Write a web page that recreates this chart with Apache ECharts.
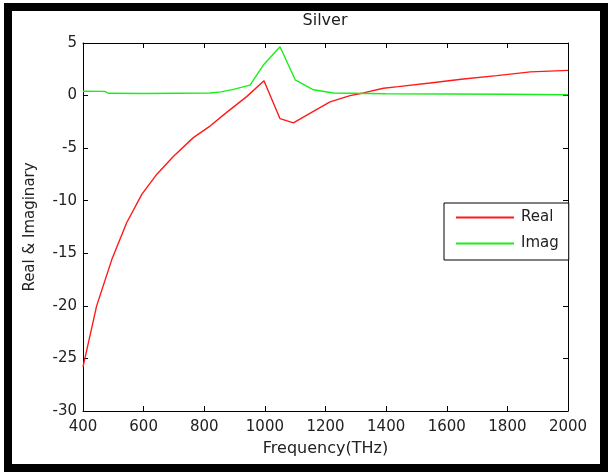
<!DOCTYPE html>
<html>
<head>
<meta charset="utf-8">
<title>Silver</title>
<script src="https://cdn.jsdelivr.net/npm/echarts@6/dist/echarts.min.js"></script>
<style>
    html, body { margin: 0; padding: 0; background: #fff; }
    #silver-chart { width: 608px; height: 475px; }
</style>
</head>
<body>
<div id="silver-chart"></div>
<script>
// values
let realFreq = [400, 445, 495, 544, 594, 643, 698, 764, 819, 874, 940, 997, 1050, 1094, 1160, 1215, 1281, 1325, 1391, 1440, 1545, 1655, 1765, 1876, 2000];
let realValues = [-25.8, -20.0, -15.6, -12.1, -9.4, -7.5, -5.8, -4.0, -2.9, -1.6, -0.1, 1.4, -2.2, -2.6, -1.5, -0.6, 0.0, 0.25, 0.7, 0.85, 1.2, 1.58, 1.9, 2.25, 2.4];
let imagFreq = [400, 472, 483, 600, 819, 855, 893, 951, 995, 1050, 1100, 1160, 1226, 1400, 1600, 1800, 2000];
let imagValues = [0.41, 0.4, 0.22, 0.2, 0.25, 0.35, 0.57, 1.0, 2.9, 4.65, 1.5, 0.55, 0.25, 0.17, 0.15, 0.12, 0.08];
let xRange = [400, 2000, 200];
let yRange = [-30, 5, 5];
let seriesNames = ['Real', 'Imag'];

function Charts() {

}

Charts.prototype.pairs = function (xs, ys) {
    let out = [];
    for (let i = 0; i < xs.length; i++) {
        out.push([xs[i], ys[i]]);
    }
    return out;
};

Charts.prototype.axis = function (range, position, showLabel, extra) {
    let ax = {
        type: 'value',
        position: position,
        min: range[0],
        max: range[1],
        interval: range[2],
        axisLine: {
            show: true,
            onZero: false,
            lineStyle: {color: '#000', width: 1}
        },
        axisTick: {
            show: true,
            inside: true,
            length: 5,
            lineStyle: {color: '#000', width: 1}
        },
        splitLine: {show: false},
        axisLabel: {
            show: showLabel,
            color: '#222',
            fontFamily: 'DejaVu Sans',
            fontSize: 15,
            // no thousands separator
            formatter: function (v) {
                return String(v);
            }
        }
    };
    return Object.assign(ax, extra || {});
};

Charts.prototype.draw = function () {
    let self = this;
    let dom = document.getElementById('silver-chart');
    // 1. init
    let chart = echarts.init(dom, null, {renderer: 'canvas'});
    // 2. option
    let xBottom = self.axis(xRange, 'bottom', true, {
        name: 'Frequency(THz)',
        nameLocation: 'middle',
        nameGap: 30,
        nameTextStyle: {color: '#222', fontFamily: 'DejaVu Sans', fontSize: 16}
    });
    xBottom.axisLabel.margin = 9;
    let yLeft = self.axis(yRange, 'left', true, {
        name: 'Real & Imaginary',
        nameLocation: 'middle',
        nameGap: 45,
        nameRotate: 90,
        nameTextStyle: {color: '#222', fontFamily: 'DejaVu Sans', fontSize: 15}
    });
    yLeft.axisLabel.margin = 6;

    let option = {
        animation: false,
        backgroundColor: '#fff',
        title: {
            text: 'Silver',
            left: 325,
            top: 13,
            padding: 0,
            textAlign: 'center',
            textStyle: {color: '#222', fontFamily: 'DejaVu Sans', fontSize: 16, fontWeight: 'normal'}
        },
        legend: {
            data: seriesNames,
            orient: 'vertical',
            left: 444,
            top: 203,
            padding: [7, 10, 9, 12],
            itemGap: 11,
            itemWidth: 58,
            itemHeight: 2,
            icon: 'rect',
            borderColor: '#000',
            borderWidth: 1,
            backgroundColor: '#fff',
            textStyle: {color: '#222', fontFamily: 'DejaVu Sans', fontSize: 15, padding: [0, 0, 0, 2]}
        },
        grid: {
            left: 83,
            right: 40,
            top: 43,
            bottom: 64,
            containLabel: false
        },
        xAxis: [xBottom, self.axis(xRange, 'top', false)],
        yAxis: [yLeft, self.axis(yRange, 'right', false)],
        graphic: [
            {
                type: 'rect',
                silent: true,
                z: 100,
                shape: {x: 8, y: 7, width: 596, height: 461},
                style: {fill: 'none', stroke: '#000', lineWidth: 8}
            }
        ],
        series: [
            {
                name: seriesNames[0],
                type: 'line',
                xAxisIndex: 0,
                yAxisIndex: 0,
                symbol: 'none',
                lineStyle: {color: '#ff1a1a', width: 1.4},
                itemStyle: {color: '#ff1a1a'},
                data: self.pairs(realFreq, realValues)
            },
            {
                name: seriesNames[1],
                type: 'line',
                xAxisIndex: 0,
                yAxisIndex: 0,
                symbol: 'none',
                lineStyle: {color: '#1aee1a', width: 1.4},
                itemStyle: {color: '#1aee1a'},
                data: self.pairs(imagFreq, imagValues)
            }
        ]
    };
    // 3. set option
    chart.setOption(option);
    window.onresize = function () {
        chart.resize();
    };
};

Charts.prototype.run = function () {
    let self = this;

    self.draw();
};

let charts = new Charts();
charts.run();
</script>
</body>
</html>
